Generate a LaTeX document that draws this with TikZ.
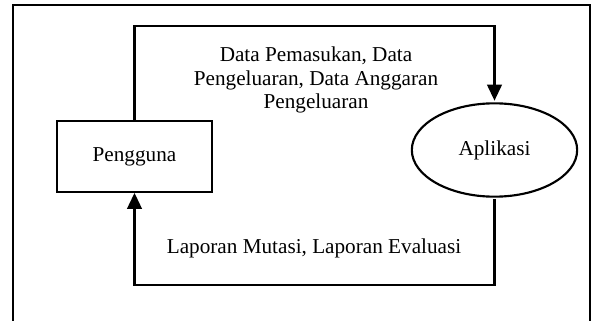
\documentclass[tikz,border=0pt]{standalone}
\usepackage{fontspec}
\setmainfont{Liberation Serif}
\usepackage{tikz}
\usetikzlibrary{arrows.meta, shapes.geometric, positioning}

\begin{document}
\begin{tikzpicture}[x=0.75pt, y=-0.75pt, >={Triangle[length=12pt, width=11pt]},
  line width=1.6pt,
  entitas/.style={draw, rectangle, minimum width=116pt, minimum height=53pt},
  proses/.style={draw, ellipse, minimum width=124pt, minimum height=70pt, outer sep=2pt},
  teks/.style={font=\fontsize{15.9}{17.6}\selectfont, align=center}]

\useasboundingbox (0,0) rectangle (596,321);

% frame
\draw (13,321) -- (13,5) -- (590,5) -- (590,321);

\node[entitas, teks] (peng) at (134.5,156.5) {Pengguna};
\node[proses, teks] (apl) at (494.5,150) {Aplikasi};

\coordinate (atas) at (316,26);
\coordinate (bawah) at (316,285);

% arrows
\draw[->] (peng.north) |- (atas) -| (apl.north);
\draw[->] (apl.south) |- (bawah) -| (peng.south);

\node[teks] (masuk) at (316,80) {Data Pemasukan, Data\\Pengeluaran, Data Anggaran\\Pengeluaran};
\node[teks] (lapor) at (314,248) {Laporan Mutasi, Laporan Evaluasi};

\end{tikzpicture}
\end{document}
